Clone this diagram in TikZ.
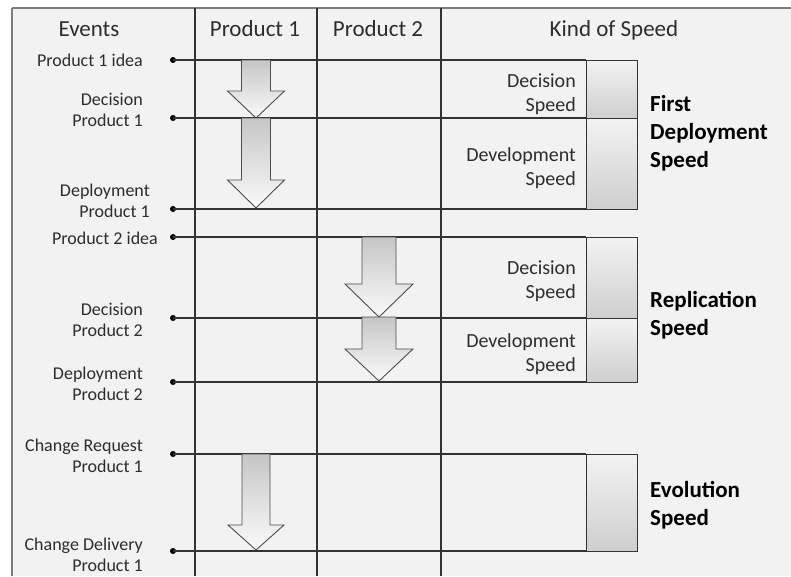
\documentclass[tikz,border=0pt]{standalone}
\usepackage{fontspec}
\setmainfont{Carlito}
\usetikzlibrary{positioning}
\definecolor{panelgray}{RGB}{242,242,242}
\definecolor{framegray}{RGB}{125,125,125}
\definecolor{inkgray}{RGB}{45,45,45}

\begin{document}
\begin{tikzpicture}[x=1pt, y=-1pt,
  headlabel/.style={anchor=base, inner sep=0pt, text=inkgray, font=\fontsize{23}{28}\selectfont},
  evlabel/.style={anchor=base east, align=right, inner sep=0pt, text=inkgray, font=\fontsize{18}{21}\selectfont},
  splabel/.style={anchor=base east, align=right, inner sep=0pt, text=inkgray, font=\fontsize{20}{24}\selectfont},
  kindlabel/.style={anchor=base west, align=left, inner sep=0pt, font=\fontsize{23}{28}\selectfont\bfseries},
  evdot/.style={circle, fill=black, inner sep=0pt, minimum size=6pt},
  evline/.style={draw=black!80, line width=1.1pt},
  divider/.style={draw=black!80, line width=1.6pt},
  speedbox/.style={draw=black!80, line width=1.2pt, top color=gray!10, bottom color=gray!38, minimum width=51pt, inner sep=0pt, anchor=north west},
  downarrow/.style={draw=black!70, line width=0.9pt, top color=gray!45, bottom color=gray!4}
]
  \useasboundingbox (0,0) rectangle (791,576);
  % panel and column dividers
  \fill[panelgray] (12,8) rectangle (791,576);
  \draw[framegray, line width=1.4pt] (12,576) -- (12,8);
  \draw[framegray, line width=2.4pt] (12,8) -- (791,8);
  \foreach \xx in {195,317,441}
    \draw[divider] (\xx,8) -- (\xx,576);

  % column heads
  \node[headlabel] (hEvents) at (89,36) {Events};
  \node[headlabel] (hProdA) at (255,36) {Product 1};
  \node[headlabel] (hProdB) at (378,36) {Product 2};
  \node[headlabel] (hKind) at (614,36) {Kind of Speed};

  % speed boxes
  \node[speedbox, minimum height=58pt] (decA) at (586,60) {};
  \node[speedbox, minimum height=91pt] (devA) at (586,118) {};
  \node[speedbox, minimum height=81pt] (decB) at (586,237) {};
  \node[speedbox, minimum height=64pt] (devB) at (586,318) {};
  \node[speedbox, minimum height=97pt] (evoA) at (586,454) {};

  % events
  \node[evdot] (eIdeaA) at (173,60) {};
  \node[evdot] (eDecA) at (173,118) {};
  \node[evdot] (eDepA) at (173,209) {};
  \node[evdot] (eIdeaB) at (173,237) {};
  \node[evdot] (eDecB) at (173,318) {};
  \node[evdot] (eDepB) at (173,382) {};
  \node[evdot] (eReq) at (173,454) {};
  \node[evdot] (eDel) at (173,551) {};
  \draw[evline] (eIdeaA.center) -- (eIdeaA -| decA.west);
  \draw[evline] (eDecA.center) -- (eDecA -| decA.west);
  \draw[evline] (eDepA.center) -- (eDepA -| devA.west);
  \draw[evline] (eIdeaB.center) -- (eIdeaB -| decB.west);
  \draw[evline] (eDecB.center) -- (eDecB -| decB.west);
  \draw[evline] (eDepB.center) -- (eDepB -| devB.west);
  \draw[evline] (eReq.center) -- (eReq -| evoA.west);
  \draw[evline] (eDel.center) -- (eDel -| evoA.west);

  % arrows: centre / top / head / tip / shaft / head half width
  \foreach \cx/\ya/\yb/\yc/\hs/\hh in {256/60/91/118/14.5/28.5, 256/118/180/208/14.5/28.5,
      379/237/284/317/17/34, 379/317/349/381/17/34, 256/454/525/550/14/28}
    \draw[downarrow] (\cx-\hs,\ya) -- (\cx+\hs,\ya) -- (\cx+\hs,\yb) -- (\cx+\hh,\yb)
      -- (\cx,\yc) -- (\cx-\hh,\yb) -- (\cx-\hs,\yb) -- cycle;

  % event labels
  \node[evlabel] (lIdeaA) at (143,66) {Product 1 idea};
  \node[evlabel] (lDecA) at (143,126) {Decision\\Product 1};
  \node[evlabel] (lDepA) at (150,217) {Deployment\\Product 1};
  \node[evlabel] (lIdeaB) at (158,244) {Product 2 idea};
  \node[evlabel] (lDecB) at (143,336) {Decision\\Product 2};
  \node[evlabel] (lDepB) at (143,400) {Deployment\\Product 2};
  \node[evlabel] (lReq) at (143,472) {Change Request\\Product 1};
  \node[evlabel] (lDel) at (143,571) {Change Delivery\\Product 1};

  % speed labels
  \node[splabel] (sDecA) at (576,111) {Decision\\Speed};
  \node[splabel] (sDevA) at (576,185) {Development\\Speed};
  \node[splabel] (sDecB) at (576,298) {Decision\\Speed};
  \node[splabel] (sDevB) at (576,371) {Development\\Speed};
  \node[kindlabel] (kFirst) at (650,167) {First\\Deployment\\Speed};
  \node[kindlabel] (kRepl) at (650,335) {Replication\\Speed};
  \node[kindlabel] (kEvol) at (650,525) {Evolution\\Speed};
\end{tikzpicture}
\end{document}
